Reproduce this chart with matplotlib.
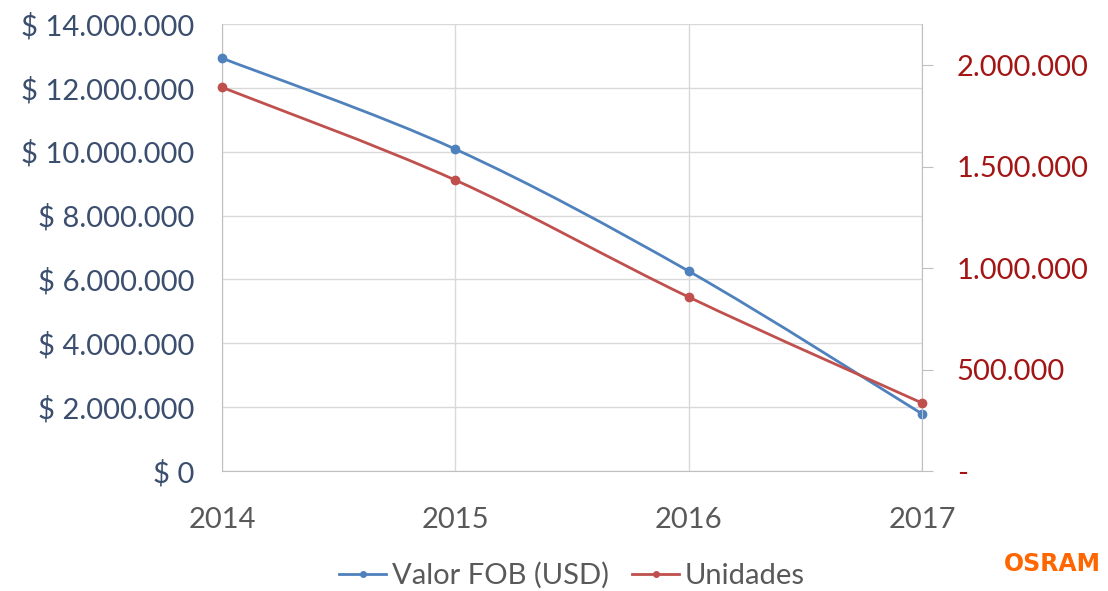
import numpy as np
import matplotlib.pyplot as plt
from matplotlib.path import Path
from matplotlib.patches import PathPatch
from matplotlib.ticker import FuncFormatter

# Datos
anios = [2014, 2015, 2016, 2017]
valor_fob = [12930000, 10080000, 6260000, 1790000]
unidades = [1890000, 1433000, 857000, 335000]

azul = '#4F81BD'
rojo = '#C0504D'
plt.rcParams['font.family'] = ['Lato', 'DejaVu Sans']


def miles(v):
    return f"{int(round(v)):,}".replace(",", ".")


# Curva suavizada (tipo Excel) con Bezier
def curva(ax, x, y, color):
    x = np.asarray(x, float)
    y = np.asarray(y, float)
    verts = [(x[0], y[0])]
    codes = [Path.MOVETO]
    n = len(x)
    for i in range(n - 1):
        x0, y0 = (x[i - 1], y[i - 1]) if i > 0 else (x[i], y[i])
        x3, y3 = (x[i + 2], y[i + 2]) if i + 2 < n else (x[i + 1], y[i + 1])
        c1 = (x[i] + (x[i + 1] - x0) / 6, y[i] + (y[i + 1] - y0) / 6)
        c2 = (x[i + 1] - (x3 - x[i]) / 6, y[i + 1] - (y3 - y[i]) / 6)
        verts += [c1, c2, (x[i + 1], y[i + 1])]
        codes += [Path.CURVE4] * 3
    ax.add_patch(PathPatch(Path(verts, codes), fill=False, ec=color, lw=2, zorder=3))


fig = plt.figure(figsize=(11.08, 5.91), dpi=100)
ax = fig.add_axes([222 / 1108, 1 - 471 / 591, 700 / 1108, 447 / 591])
ax2 = ax.twinx()

curva(ax, anios, valor_fob, azul)
ax.plot(anios, valor_fob, 'o', color=azul, ms=6, zorder=4, clip_on=False)
curva(ax2, anios, unidades, rojo)
ax2.plot(anios, unidades, 'o', color=rojo, ms=6, zorder=4, clip_on=False)

ax.set_xlim(2014, 2017)
ax.set_ylim(0, 14000000)
ax2.set_ylim(0, 2202000)

ax.set_xticks(anios)
ax.set_yticks(np.arange(0, 14000001, 2000000))
ax2.set_yticks(np.arange(0, 2000001, 500000))
ax.yaxis.set_major_formatter(FuncFormatter(lambda v, p: "$ " + miles(v)))
ax2.yaxis.set_major_formatter(FuncFormatter(lambda v, p: "-" if v == 0 else miles(v)))

ax.grid(True, color='#D9D9D9', lw=1)
ax.set_axisbelow(True)
for a in (ax, ax2):
    for s in a.spines.values():
        s.set_visible(False)
ax.spines['left'].set_visible(True)
ax.spines['left'].set_color('#BFBFBF')
ax2.spines['right'].set_visible(True)
ax2.spines['right'].set_color('#BFBFBF')
ax.spines['bottom'].set_visible(True)
ax.spines['bottom'].set_color('#BFBFBF')

ax.tick_params(axis='y', length=0, labelsize=21, labelcolor='#3B4E6E', pad=20)
ax.tick_params(axis='x', length=0, labelsize=21, labelcolor='#595959', pad=26)
ax2.tick_params(axis='y', length=8, color='#BFBFBF', labelsize=21, labelcolor='#A31515', pad=17)

ax.plot([], [], '-o', color=azul, ms=4, lw=2, label='Valor FOB (USD)')
ax.plot([], [], '-o', color=rojo, ms=4, lw=2, label='Unidades')
leg = ax.legend(loc='upper center', bbox_to_anchor=(0.5, -0.145), ncol=2, frameon=False,
                fontsize=21, handlelength=1.6, handletextpad=0.2, columnspacing=0.8)
for t in leg.get_texts():
    t.set_color('#595959')

fig.text(0.906, 0.045, 'OSRAM', color='#FF6600', fontsize=17, fontweight='bold',
         family=['DejaVu Sans'], va='center')

fig.savefig('out.png', dpi=100)
